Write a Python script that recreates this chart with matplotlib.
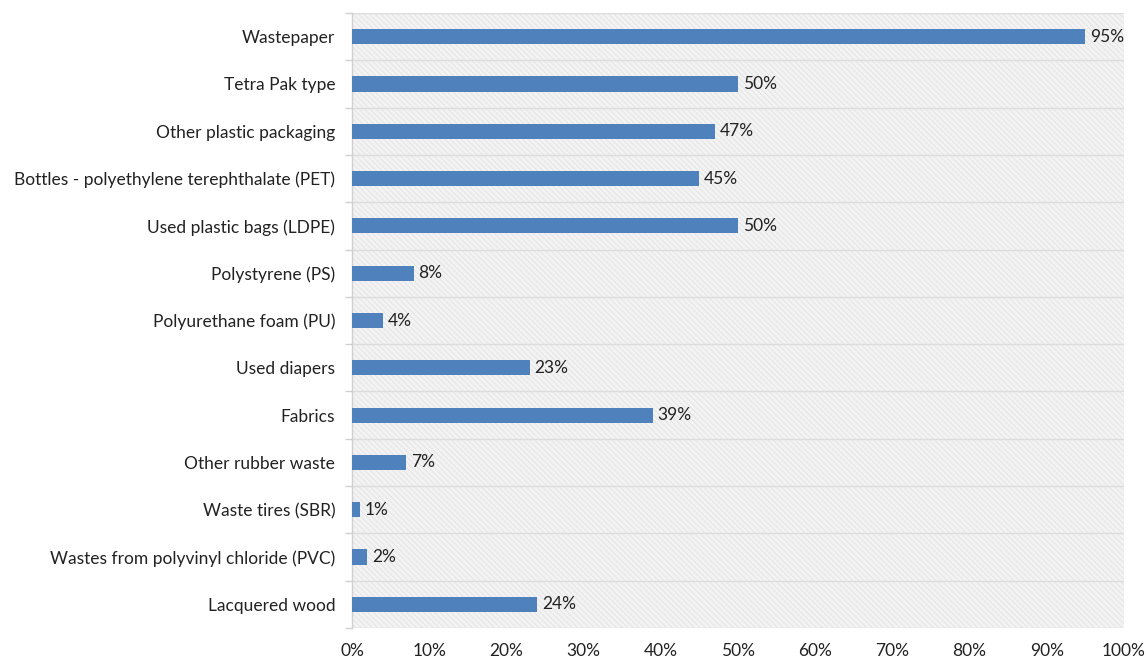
import matplotlib
matplotlib.use("Agg")
import matplotlib.pyplot as plt
from matplotlib.patches import Rectangle
from matplotlib.ticker import FuncFormatter, MultipleLocator

categories = [
    "Wastepaper",
    "Tetra Pak type",
    "Other plastic packaging",
    "Bottles - polyethylene terephthalate (PET)",
    "Used plastic bags (LDPE)",
    "Polystyrene (PS)",
    "Polyurethane foam (PU)",
    "Used diapers",
    "Fabrics",
    "Other rubber waste",
    "Waste tires (SBR)",
    "Wastes from polyvinyl chloride (PVC)",
    "Lacquered wood",
]
values = [95, 50, 47, 45, 50, 8, 4, 23, 39, 7, 1, 2, 24]

plt.rcParams["font.family"] = ["Lato", "DejaVu Sans"]
plt.rcParams["hatch.linewidth"] = 0.6

fig = plt.figure(figsize=(11.46, 6.62), dpi=100)
ax = fig.add_axes([352 / 1146, 1 - 628 / 662, (1124 - 352) / 1146, (628 - 13) / 662])

n = len(categories)
ypos = list(range(n))

# hatched light-gray plot area
ax.set_facecolor("#f3f3f3")
ax.add_patch(Rectangle((0, 0), 1, 1, transform=ax.transAxes, facecolor="none",
                       edgecolor="#e2e2e2", hatch="\\\\\\\\\\\\", linewidth=0, zorder=0))

ax.barh(ypos, values, height=0.32, color="#4f81bd", zorder=3)
for y, v in zip(ypos, values):
    ax.text(v + 0.6, y, f"{v}%", va="center", ha="left", fontsize=12.5,
            color="#222222", zorder=4)

ax.set_xlim(0, 100)
ax.set_ylim(n - 0.5, -0.5)
ax.xaxis.set_major_locator(MultipleLocator(10))
ax.xaxis.set_major_formatter(FuncFormatter(lambda x, _: f"{int(round(x))}%"))

ax.set_yticks(ypos)
ax.set_yticklabels(categories, fontsize=12.5, color="#222222")
ax.set_yticks([i + 0.5 for i in range(-1, n)], minor=True)
ax.tick_params(axis="y", which="major", length=0, pad=12)
ax.tick_params(axis="y", which="minor", length=5, color="#d0d0d0", width=1)
ax.tick_params(axis="x", length=0, labelsize=12.5, colors="#222222", pad=11)

ax.grid(axis="y", which="minor", color="#dcdcdc", linewidth=1, zorder=1)
ax.grid(axis="x", visible=False)

for side in ["top", "right", "bottom"]:
    ax.spines[side].set_visible(False)
ax.spines["left"].set_color("#d0d0d0")
ax.spines["left"].set_linewidth(1)

fig.savefig("out.png", dpi=100, facecolor="white")
